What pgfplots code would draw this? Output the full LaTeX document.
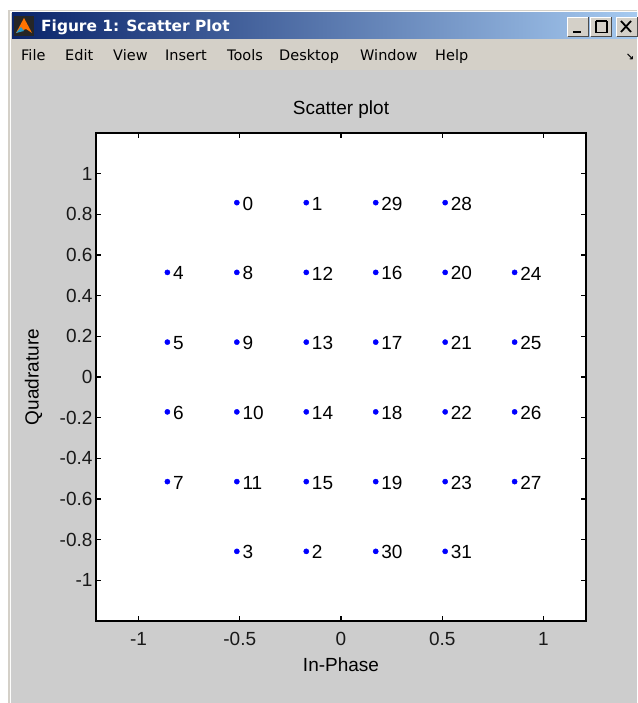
\documentclass[border=0pt]{standalone}
\usepackage{fontspec}
\setmainfont{Liberation Sans}
\newfontfamily\uifont{DejaVu Sans}
\usepackage{pgfplots}
\pgfplotsset{compat=1.18}
\definecolor{figgray}{RGB}{205,205,205}
\definecolor{winface}{RGB}{212,208,200}
\definecolor{tbdark}{RGB}{10,36,106}
\definecolor{tblight}{RGB}{166,202,240}
\begin{document}
\begin{tikzpicture}
\path[use as bounding box] (0,0) rectangle (637pt,-703pt);
\fill[white] (0,0) rectangle (637pt,-703pt);
\begin{scope}[x=1pt,y=-1pt]
  % window frame
  \fill[winface] (8,10) rectangle (637,703);
  \fill[white!95!winface] (9.5,11.5) rectangle (637,703);
  \fill[winface] (11,13) rectangle (637,703);
  % title bar
  \shade[left color=tbdark, right color=tblight] (12,13) rectangle (637,39);
  % matlab icon
  \fill[black!85] (14,16) rectangle (34,36);
  \fill[orange!90!red] (16,33) -- (24,18) -- (32,33) -- (26,29) -- cycle;
  \fill[cyan!60!teal] (16,33) -- (21,27) -- (24,31) -- cycle;
  \node[anchor=base west, inner sep=0pt, text=white] at (41,32) {\uifont\bfseries\fontsize{15.4}{18}\selectfont Figure 1: Scatter Plot};
  % buttons
  \foreach \bx in {567,590,616}{
    \fill[winface] (\bx,17) rectangle (\bx+22,37);
    \draw[white, line width=1pt] (\bx+0.5,36.5) -- (\bx+0.5,17.5) -- (\bx+21.5,17.5);
    \draw[black!70, line width=1pt] (\bx+0.5,36.5) -- (\bx+21.5,36.5) -- (\bx+21.5,17.5);
  }
  \draw[black, line width=2pt] (573,32) -- (581,32);
  \draw[black, line width=1.2pt] (596,21.5) rectangle (607,32.5);
  \draw[black, line width=2pt] (596,21.5) -- (607,21.5);
  \draw[black, line width=1.8pt] (621,21) -- (631,32) (631,21) -- (621,32);
  % menu bar
  \fill[winface] (11,39) rectangle (637,70);
  \foreach \mx/\mt in {21/File,65/Edit,113/View,165/Insert,227/Tools,279/Desktop,360/Window,435/Help}{
    \node[anchor=base west, inner sep=0pt] at (\mx,60.5) {\uifont\fontsize{14.5}{17}\selectfont \mt};
  }
  \node[inner sep=0pt] at (630,57) {\uifont\fontsize{10}{12}\selectfont\bfseries ↘};
  % figure area
  \fill[figgray] (11,70) rectangle (637,703);
\end{scope}
\begin{axis}[
  at={(96pt,-621pt)}, anchor=south west,
  scale only axis, width=490pt, height=488pt,
  xmin=-1.21, xmax=1.21, ymin=-1.2, ymax=1.2,
  axis background/.style={fill=white},
  xtick={-1,-0.5,0,0.5,1},
  ytick={-1,-0.8,-0.6,-0.4,-0.2,0,0.2,0.4,0.6,0.8,1},
  yticklabels={-1,-0.8,-0.6,-0.4,-0.2,0,0.2,0.4,0.6,0.8,1},
  xticklabels={-1,-0.5,0,0.5,1},
  tick align=inside, major tick length=5pt,
  tick style={black, line width=1.1pt},
  axis line style={black, line width=1.1pt},
  ticklabel style={font=\fontsize{19}{22}\selectfont, text=black!90},
  xticklabel style={yshift=-8pt},
  title={Scatter plot}, xlabel={In-Phase}, ylabel={Quadrature},
  every axis title/.style={at={(axis description cs:0.5,1.0471)}, anchor=center, font=\fontsize{19}{22}\selectfont},
  every axis x label/.style={at={(axis description cs:0.5,-0.0902)}, anchor=center, font=\fontsize{19}{22}\selectfont},
  every axis y label/.style={at={(axis description cs:-0.1276,0.5)}, rotate=90, anchor=center, font=\fontsize{19}{22}\selectfont},
  clip=false,
]
\addplot[only marks, mark=*, mark size=2.6pt, color=blue,
  nodes near coords, point meta=explicit symbolic,
  every node near coord/.style={anchor=west, inner sep=0pt, xshift=5.5pt, yshift=-1pt, text=black, font=\fontsize{19}{22}\selectfont}]
  table[meta=label] {
x y label
-0.5145 0.8575 0
-0.1715 0.8575 1
0.1715 0.8575 29
0.5145 0.8575 28
-0.8575 0.5145 4
-0.5145 0.5145 8
-0.1715 0.5145 12
0.1715 0.5145 16
0.5145 0.5145 20
0.8575 0.5145 24
-0.8575 0.1715 5
-0.5145 0.1715 9
-0.1715 0.1715 13
0.1715 0.1715 17
0.5145 0.1715 21
0.8575 0.1715 25
-0.8575 -0.1715 6
-0.5145 -0.1715 10
-0.1715 -0.1715 14
0.1715 -0.1715 18
0.5145 -0.1715 22
0.8575 -0.1715 26
-0.8575 -0.5145 7
-0.5145 -0.5145 11
-0.1715 -0.5145 15
0.1715 -0.5145 19
0.5145 -0.5145 23
0.8575 -0.5145 27
-0.5145 -0.8575 3
-0.1715 -0.8575 2
0.1715 -0.8575 30
0.5145 -0.8575 31
};
\end{axis}
\end{tikzpicture}
\end{document}
